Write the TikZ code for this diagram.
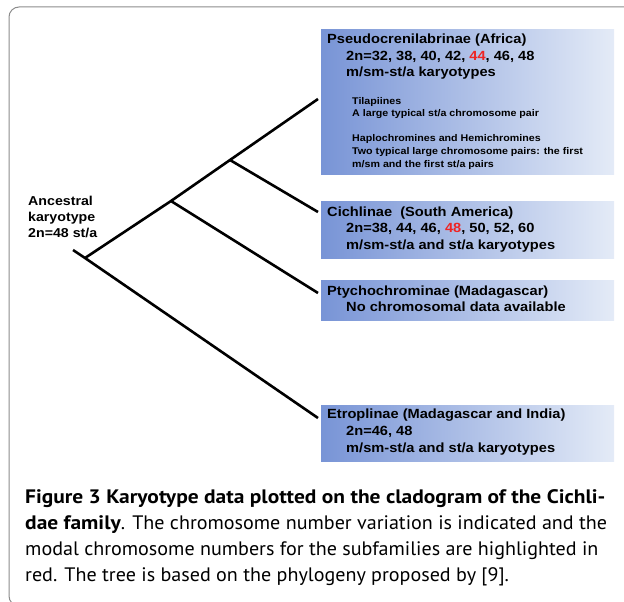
\documentclass[tikz,border=0pt]{standalone}
\usepackage{fontspec}
\setmainfont{Liberation Sans}
\newfontfamily\boxfont[FakeStretch=1.1]{Liberation Sans}
\newfontfamily\capfont[FakeStretch=1.03]{PT Sans}
\newfontfamily\capbold[FakeStretch=1.1]{PT Sans}
\definecolor{boxleft}{RGB}{120,148,214}
\definecolor{boxright}{RGB}{228,235,247}
\definecolor{modalred}{RGB}{238,36,36}
\definecolor{framegray}{RGB}{140,140,140}
\tikzset{
  cbox/.style={anchor=north west, left color=boxleft, right color=boxright, draw=none, minimum width=293pt, inner sep=0pt},
  branch/.style={line width=2.6pt, line cap=butt},
  big/.style={anchor=base west, inner sep=0pt, font=\boxfont\fontsize{13.3}{16}\bfseries},
  small/.style={anchor=base west, inner sep=0pt, font=\boxfont\fontsize{9.7}{12}\bfseries},
  captext/.style={anchor=base west, inner sep=0pt, font=\capfont\fontsize{19.5}{26}\selectfont},
}
\begin{document}
\begin{tikzpicture}[x=1pt,y=-1pt]
\useasboundingbox (0,0) rectangle (624,602);
\begin{scope}
\clip (0,0) rectangle (624,602);
\draw[framegray, line width=1pt, rounded corners=10pt] (640,7) -- (9,7) -- (9,606) -- (640,606);
\end{scope}
% boxes
\node[cbox, minimum height=145pt] (b1) at (321,29) {};
\node[cbox, minimum height=57pt] (b2) at (321,201) {};
\node[cbox, minimum height=40pt] (b3) at (321,280) {};
\node[cbox, minimum height=56pt] (b4) at (321,405) {};
% tree
\coordinate (stub) at (73,250);
\coordinate (root) at (85,258);
\coordinate (nA) at (171,201);
\coordinate (nB) at (230,160);
\coordinate (e1) at (318,99);
\coordinate (e2) at (318,212);
\coordinate (e3) at (318,293);
\coordinate (e4) at (318,418);
\draw[branch] (stub) -- (root) -- (e4);
\draw[branch] (root) -- (nA) -- (nB) -- (e1);
\draw[branch] (nA) -- (e3);
\draw[branch] (nB) -- (e2);
% ancestral
\node[big, font=\boxfont\fontsize{12.9}{16}\bfseries] (anc1) at (28,205) {Ancestral};
\node[big, font=\boxfont\fontsize{12.9}{16}\bfseries] (anc2) at (28,221) {karyotype};
\node[big, font=\boxfont\fontsize{12.9}{16}\bfseries] (anc3) at (28,237) {2n=48 st/a};
% box 1 texts
\node[big] (t11) at (327,44) {Pseudocrenilabrinae (Africa)};
\node[big] (t12) at (346,61) {2n=32, 38, 40, 42, \textcolor{modalred}{44}, 46, 48};
\node[big] (t13) at (346,77) {m/sm-st/a karyotypes};
\node[small] (t14) at (352,104) {Tilapiines};
\node[small] (t15) at (352,116) {A large typical st/a chromosome pair};
\node[small] (t16) at (352,141) {Haplochromines and Hemichromines};
\node[small] (t17) at (352,154) {Two typical large chromosome pairs: the first};
\node[small] (t18) at (352,167) {m/sm and the first st/a pairs};
% box 2
\node[big] (t21) at (327,216) {Cichlinae\ \ (South America)};
\node[big] (t22) at (346,232) {2n=38, 44, 46, \textcolor{modalred}{48}, 50, 52, 60};
\node[big] (t23) at (346,249) {m/sm-st/a and st/a karyotypes};
% box 3
\node[big] (t31) at (327,295) {Ptychochrominae (Madagascar)};
\node[big] (t32) at (346,311) {No chromosomal data available};
% box 4
\node[big] (t41) at (327,418) {Etroplinae (Madagascar and India)};
\node[big] (t42) at (346,435) {2n=46, 48};
\node[big] (t43) at (346,452) {m/sm-st/a and st/a karyotypes};
% caption
\node[captext] (c1) at (25,503) {\capbold\bfseries Figure 3 Karyotype data plotted on the cladogram of the Cichli-};
\node[captext] (c2) at (25,529) {{\capbold\bfseries dae family}. The chromosome number variation is indicated and the};
\node[captext] (c3) at (25,555) {modal chromosome numbers for the subfamilies are highlighted in};
\node[captext] (c4) at (25,581) {red. The tree is based on the phylogeny proposed by [9].};
\end{tikzpicture}
\end{document}
